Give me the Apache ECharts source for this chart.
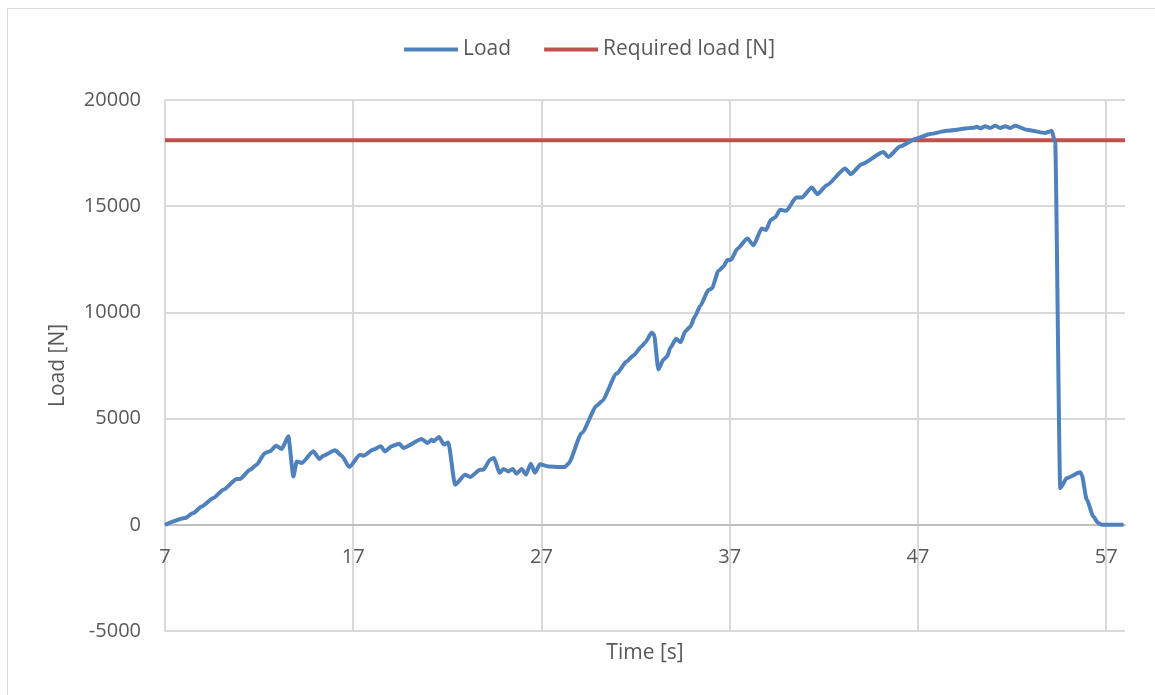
<!DOCTYPE html>
<html>
<head>
<meta charset="utf-8">
<script src="https://cdn.jsdelivr.net/npm/echarts@6/dist/echarts.min.js"></script>
<style>
html,body{margin:0;padding:0;background:#fff;}
#frame{position:absolute;left:7px;top:8px;width:1160px;height:700px;border:1px solid #d9d9d9;box-sizing:border-box;}
#chart{position:absolute;left:0;top:0;width:1155px;height:695px;}
</style>
</head>
<body>
<div id="frame"></div>
<div id="chart"></div>
<script>
// Time [s]
const timeValues = [7, 8.06, 8.5, 8.95, 9.57, 10.1, 10.81, 10.98, 11.52, 11.87, 12.31, 12.58, 12.9, 13.2, 13.55, 13.82, 14.0, 14.26, 14.88, 15.2, 15.41, 16.03, 16.39, 16.79, 17.36, 17.54, 18.07, 18.46, 18.69, 19.05, 19.45, 19.66, 20.64, 20.94, 21.17, 21.26, 21.56, 21.82, 22.05, 22.41, 22.94, 23.21, 23.74, 23.92, 24.27, 24.48, 24.77, 24.98, 25.24, 25.47, 25.68, 25.95, 26.18, 26.43, 26.66, 26.92, 27.37, 27.99, 28.25, 28.43, 29.14, 29.94, 30.2, 31.0, 31.53, 31.88, 32.33, 32.5, 32.86, 32.98, 33.21, 33.48, 33.69, 33.84, 34.15, 34.4, 34.63, 34.9, 35.16, 35.43, 35.87, 36.05, 36.4, 36.67, 36.88, 37.06, 37.41, 37.94, 38.26, 38.7, 38.93, 39.18, 39.41, 39.68, 40.0, 40.53, 40.83, 41.36, 41.66, 42.16, 43.13, 43.43, 44.01, 45.16, 45.43, 46.05, 46.93, 47.65, 48.53, 49.95, 50.13, 50.3, 50.57, 50.84, 51.1, 51.37, 51.64, 51.9, 52.17, 52.79, 53.76, 53.94, 54.11, 54.29, 54.56, 54.91, 55.62, 55.7, 55.97, 56.32, 56.55, 56.77, 57.92];
// Load [N]
const loadValues = [0, 316, 550, 865, 1260, 1650, 2155, 2155, 2594, 2830, 3382, 3460, 3727, 3570, 4165, 2280, 2985, 2910, 3460, 3100, 3255, 3505, 3255, 2720, 3300, 3255, 3540, 3700, 3460, 3700, 3820, 3620, 4040, 3850, 4010, 3930, 4135, 3775, 3880, 1885, 2360, 2250, 2594, 2594, 3066, 3145, 2440, 2630, 2515, 2630, 2405, 2630, 2360, 2880, 2450, 2850, 2750, 2720, 2720, 2880, 4325, 5610, 5815, 7120, 7700, 7970, 8410, 8570, 9050, 8960, 7310, 7780, 7940, 8330, 8760, 8600, 9100, 9320, 9825, 10300, 11050, 11120, 11950, 12160, 12470, 12470, 13000, 13480, 13160, 13950, 13880, 14350, 14470, 14830, 14780, 15410, 15410, 15880, 15570, 15990, 16780, 16510, 16980, 17550, 17320, 17815, 18190, 18400, 18550, 18690, 18740, 18665, 18760, 18680, 18790, 18680, 18760, 18680, 18790, 18600, 18445, 18505, 18550, 18000, 1730, 2200, 2470, 2360, 1180, 390, 100, 0, 0];
// Required load [N]
const requiredTime = [7, 58];
const requiredLoad = [18100, 18100];

const seriesNames = ['Load', 'Required load [N]'];
const xTicks = { min: 7, max: 58, interval: 10 };
const yTicks = { min: -5000, max: 20000, interval: 5000 };

const font = '"Open Sans", "Noto Sans", sans-serif';
const chart = echarts.init(document.getElementById('chart'));
chart.setOption({
  animation: false,
  backgroundColor: 'transparent',
  grid: { left: 165, right: 30, top: 100, bottom: 64, containLabel: false, outerBoundsMode: 'none' },
  legend: {
    top: 34, left: 399,
    data: seriesNames,
    icon: 'rect', itemWidth: 54, itemHeight: 4, itemGap: 33,
    textStyle: { fontFamily: font, fontSize: 21, color: '#595959' }
  },
  xAxis: {
    type: 'value', min: xTicks.min, max: xTicks.max, interval: xTicks.interval,
    name: 'Time [s]', nameLocation: 'middle', nameGap: 12,
    nameTextStyle: { fontFamily: font, fontSize: 21, color: '#595959', verticalAlign: 'top' },
    axisLine: { onZero: true, lineStyle: { color: '#bfbfbf', width: 2 } },
    axisTick: { show: false },
    axisLabel: { showMaxLabel: false, margin: -84, fontFamily: font, fontSize: 20, color: '#595959', formatter: v => String(v) },
    splitLine: { show: true, showMinLine: false, showMaxLine: false, lineStyle: { color: '#d9d9d9', width: 2 } }
  },
  yAxis: {
    type: 'value', min: yTicks.min, max: yTicks.max, interval: yTicks.interval,
    name: 'Load [N]', nameLocation: 'middle', nameGap: 96, nameRotate: 90,
    nameTextStyle: { fontFamily: font, fontSize: 21, color: '#595959' },
    axisLine: { show: true, lineStyle: { color: '#d9d9d9', width: 2 } },
    axisTick: { show: false },
    axisLabel: { margin: 24, fontFamily: font, fontSize: 20, color: '#595959', formatter: v => String(v) },
    splitLine: { show: true, lineStyle: { color: '#d9d9d9', width: 2 } }
  },
  series: [
    {
      name: seriesNames[0], type: 'line',
      data: timeValues.map((t, i) => [t, loadValues[i]]),
      showSymbol: false, smooth: 0.2, smoothMonotone: 'x',
      lineStyle: { color: '#4f81bd', width: 4 }, itemStyle: { color: '#4f81bd' }, z: 3
    },
    {
      name: seriesNames[1], type: 'line',
      data: requiredTime.map((t, i) => [t, requiredLoad[i]]),
      showSymbol: false,
      lineStyle: { color: '#c0504d', width: 4 }, itemStyle: { color: '#c0504d' }, z: 2
    }
  ]
});
</script>
</body>
</html>
